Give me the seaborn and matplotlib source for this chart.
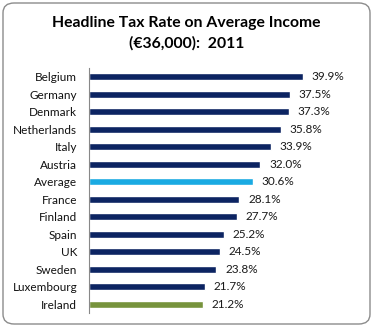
import matplotlib
matplotlib.use("Agg")
import matplotlib.pyplot as plt
import seaborn as sns
import pandas as pd
import numpy as np
from matplotlib.patches import FancyBboxPatch

countries = ["Belgium", "Germany", "Denmark", "Netherlands", "Italy", "Austria",
             "Average", "France", "Finland", "Spain", "UK", "Sweden",
             "Luxembourg", "Ireland"]
rates = [39.9, 37.5, 37.3, 35.8, 33.9, 32.0, 30.6, 28.1, 27.7, 25.2, 24.5,
         23.8, 21.7, 21.2]
labels = ["39.9%", "37.5%", "37.3%", "35.8%", "33.9%", "32.0%", "30.6%",
          "28.1%", "27.7%", "25.2%", "24.5%", "23.8%", "21.7%", "21.2%"]

navy = "#0C2462"
palette = {c: navy for c in countries}
palette["Average"] = "#1AAAE2"
palette["Ireland"] = "#77933C"

df = pd.DataFrame({"country": countries, "rate": rates})

sns.set_style("white")
plt.rcParams["font.family"] = ["Lato", "DejaVu Sans"]

fig = plt.figure(figsize=(3.73, 3.27), dpi=100)
ax = fig.add_axes([89/373, 1-313/327, 241/373, 245/327])

sns.barplot(data=df, y="country", x="rate", hue="country", palette=palette,
            order=countries, hue_order=countries, width=0.4, legend=False,
            orient="h", ax=ax, saturation=1)

for i, (v, t) in enumerate(zip(rates, labels)):
    ax.text(v + 1.6, i, t, va="center", ha="left", fontsize=8.5, color="#1a1a1a")

ax.set_xlim(0, 45)
ax.set_ylim(len(countries) - 0.5, -0.5)
ax.set_xlabel("")
ax.set_ylabel("")
ax.set_xticks([])
for s in ["top", "right", "bottom"]:
    ax.spines[s].set_visible(False)
ax.spines["left"].set_color("#888888")
ax.spines["left"].set_linewidth(0.8)
ax.set_yticks(np.arange(len(countries)))
ax.set_yticklabels(countries, fontsize=8.5, color="#111111")
ax.set_yticks(np.arange(-0.5, len(countries), 1), minor=True)
ax.tick_params(axis="y", which="major", length=0, pad=8.5)
ax.tick_params(axis="y", which="minor", length=4, color="#888888", width=0.8, direction="out")

fig.text(0.5, 1-23/327, "Headline Tax Rate on Average Income", ha="center", va="center",
         fontsize=11.3, fontweight="bold", color="#000000")
fig.text(0.5, 1-43/327, "(€36,000):  2011", ha="center", va="center",
         fontsize=11.3, fontweight="bold", color="#000000")

border = FancyBboxPatch((3/373, 3/327), 367/373, 321/327,
                        boxstyle="round,pad=0,rounding_size=0.03",
                        transform=fig.transFigure, facecolor="none",
                        edgecolor="#8C8C8C", linewidth=1.0)
fig.patches.append(border)

fig.savefig("out.png", dpi=100)
